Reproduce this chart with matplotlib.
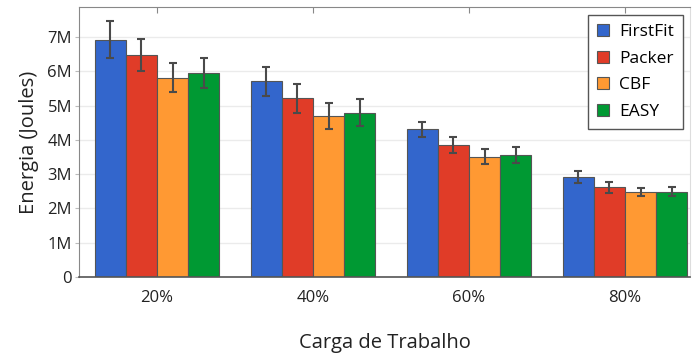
import matplotlib
matplotlib.use("Agg")
import matplotlib.pyplot as plt
import numpy as np

plt.rcParams["font.family"] = ["Open Sans", "DejaVu Sans"]

# Chart data (energy in Joules).
loads = ["20%", "40%", "60%", "80%"]
policies = ["FirstFit", "Packer", "CBF", "EASY"]
energy = {
    "FirstFit": [6.93e6, 5.71e6, 4.31e6, 2.92e6],
    "Packer": [6.47e6, 5.21e6, 3.86e6, 2.62e6],
    "CBF": [5.82e6, 4.69e6, 3.51e6, 2.47e6],
    "EASY": [5.95e6, 4.79e6, 3.56e6, 2.49e6],
}
errors = {
    "FirstFit": [0.54e6, 0.43e6, 0.22e6, 0.175e6],
    "Packer": [0.47e6, 0.42e6, 0.23e6, 0.155e6],
    "CBF": [0.42e6, 0.38e6, 0.22e6, 0.12e6],
    "EASY": [0.43e6, 0.39e6, 0.24e6, 0.13e6],
}
colors = ["#3366CC", "#E03C28", "#FF9933", "#009933"]

fig = plt.figure(figsize=(6.94, 3.54), dpi=100)
ax = fig.add_axes([79 / 694, 77 / 354, 611 / 694, 269.7 / 354])

x = np.arange(len(loads))
width = 0.2
for i, (name, color) in enumerate(zip(policies, colors)):
    ax.bar(
        x + (i - 1.5) * width, energy[name], width,
        yerr=errors[name], color=color, edgecolor="#555555", linewidth=0.8,
        label=name, zorder=2,
        error_kw=dict(ecolor="#4a4a4a", elinewidth=1.5, capsize=3, capthick=1.5),
    )

ax.set_xlim(-0.5, 3.417)
ax.set_ylim(0, 7.87e6)
ax.set_xticks(x)
ax.set_xticklabels(loads)
ax.set_yticks(np.arange(0, 8) * 1e6)
ax.set_yticklabels(["0"] + [f"{k}M" for k in range(1, 8)])

ax.grid(axis="y", color="#ebebeb", linewidth=1, zorder=0)
ax.set_axisbelow(True)

ax.tick_params(axis="x", direction="in", top=True, bottom=False, length=4,
               color="#888888", labelsize=12, pad=9, labelcolor="#222222")
ax.tick_params(axis="y", direction="out", length=3, color="#bbbbbb",
               labelsize=12, pad=2, labelcolor="#222222")

for side in ["left", "top"]:
    ax.spines[side].set_color("#888888")
ax.spines["bottom"].set_color("#555555")
ax.spines["bottom"].set_linewidth(1.2)
ax.spines["right"].set_color("#dddddd")

ax.set_xlabel("Carga de Trabalho", fontsize=14.5, labelpad=20, color="#222222")
ax.set_ylabel("Energia (Joules)", fontsize=14.5, labelpad=6, color="#222222")

leg = ax.legend(
    loc="upper right", bbox_to_anchor=(0.988, 0.97), fontsize=12.5,
    fancybox=False, framealpha=1, edgecolor="#555555",
    handlelength=0.7, handleheight=0.7, handletextpad=0.6,
    labelspacing=0.6, borderpad=0.5, borderaxespad=0,
)
leg.get_frame().set_linewidth(1)

fig.savefig("out.png", dpi=100)
